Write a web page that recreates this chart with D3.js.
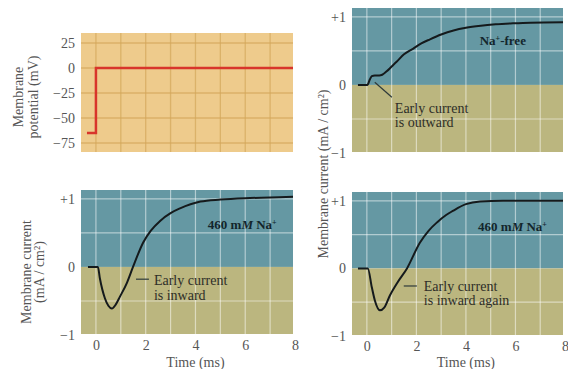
<!DOCTYPE html>
<html>
<head>
<meta charset="utf-8">
<script src="https://cdn.jsdelivr.net/npm/d3@7"></script>
<style>
  body { margin: 0; background: #fff; }
  svg { display: block; }
</style>
</head>
<body>
<script>
// ---- data ----
// voltage step (top left)
var potTime = [-0.36, 0, 0, 7.92];
var potValue = [-65, -65, 0, 0];

// Na+-free current (top right)
var naFreeTime = [-0.36, 0.02, 0.12, 0.2, 0.32, 0.5, 0.62, 0.8, 1.0, 1.2, 1.5, 1.86, 2.2, 2.55, 3.0, 3.5, 4.0, 4.6, 5.2, 5.9, 6.6, 7.92];
var naFreeCurrent = [0, 0, 0.08, 0.13, 0.14, 0.14, 0.15, 0.2, 0.27, 0.34, 0.45, 0.53, 0.61, 0.67, 0.74, 0.8, 0.84, 0.87, 0.89, 0.905, 0.915, 0.92];

// 460 mM Na+ current (bottom left)
var naLeftTime = [-0.32, 0.08, 0.16, 0.36, 0.5, 0.64, 0.8, 0.96, 1.25, 1.49, 1.9, 2.2, 2.59, 3.0, 3.38, 3.8, 4.2, 5.0, 6.0, 7.0, 7.92];
var naLeftCurrent = [0, 0, -0.17, -0.46, -0.57, -0.61, -0.55, -0.44, -0.23, 0, 0.36, 0.53, 0.68, 0.79, 0.86, 0.92, 0.96, 0.99, 1.01, 1.02, 1.03];

// 460 mM Na+ current again (bottom right)
var naRightTime = [-0.36, 0.04, 0.2, 0.32, 0.53, 0.7, 0.93, 1.25, 1.62, 2.14, 2.5, 2.83, 3.2, 3.47, 4.0, 4.57, 5.5, 6.5, 7.92];
var naRightCurrent = [0, 0, -0.28, -0.47, -0.62, -0.58, -0.4, -0.2, 0, 0.38, 0.56, 0.68, 0.79, 0.85, 0.95, 0.99, 1.0, 1.0, 1.0];

// ticks and grids
var timeTicks = [0, 2, 4, 6, 8];
var timeGrid = [0, 1, 2, 3, 4, 5, 6, 7];
var potTicks = [25, 0, -25, -50, -75];
var currentTicks = [1, 0, -1];
var currentTickLabels = ["+1", "0", "\u22121"];
var currentGrid = [1, 0.5, -0.5];

var timeDomain = [-0.6, 7.92];
var potDomain = [-84, 35];
var currentDomain = [-0.985, 1.13];

// ---- setup ----
var svg = d3.select("body").append("svg")
  .attr("width", 568)
  .attr("height", 369);

var serif = "'Liberation Serif', 'Times New Roman', serif";
var tealFill = "#6598a3";
var oliveFill = "#bbb67f";
var tanFill = "#eecb8c";

// panel boxes in pixels
var boxPot = {x0: 81, x1: 293, y0: 33, y1: 152};
var boxFree = {x0: 352, x1: 563, y0: 8, y1: 152};
var boxLeft = {x0: 81, x1: 293, y0: 190, y1: 334};
var boxRight = {x0: 352, x1: 563, y0: 192, y1: 335};

function scalesFor(box, yDomain) {
  return {
    x: d3.scaleLinear().domain(timeDomain).range([box.x0, box.x1]),
    y: d3.scaleLinear().domain(yDomain).range([box.y1, box.y0])
  };
}

function drawYAxis(s, box, ticks, labels) {
  var axis = d3.axisLeft(s.y)
    .tickValues(ticks)
    .tickSize(0)
    .tickPadding(6)
    .tickFormat(function(d, i) { return labels[i]; });
  var g = svg.append("g")
    .attr("transform", "translate(" + box.x0 + ",0)")
    .call(axis);
  g.select(".domain").remove();
  g.selectAll("text")
    .attr("font-family", serif)
    .attr("font-size", 14)
    .attr("fill", "#555");
}

function drawXAxis(s, box) {
  var axis = d3.axisBottom(s.x)
    .tickValues(timeTicks)
    .tickSize(0)
    .tickPadding(6);
  var g = svg.append("g")
    .attr("transform", "translate(0," + box.y1 + ")")
    .call(axis);
  g.select(".domain").remove();
  g.selectAll("text")
    .attr("font-family", serif)
    .attr("font-size", 14)
    .attr("fill", "#555");

  svg.append("text")
    .attr("x", s.x(4))
    .attr("y", 367)
    .attr("text-anchor", "middle")
    .attr("font-family", serif)
    .attr("font-size", 14)
    .attr("fill", "#555")
    .text("Time (ms)");
}

function drawCurrentPanel(s, box, times, values) {
  // two-tone background: outward (teal) above zero, inward (olive) below
  svg.append("rect")
    .attr("x", box.x0).attr("y", box.y0)
    .attr("width", box.x1 - box.x0)
    .attr("height", s.y(0) - box.y0)
    .attr("fill", tealFill);
  svg.append("rect")
    .attr("x", box.x0).attr("y", s.y(0))
    .attr("width", box.x1 - box.x0)
    .attr("height", box.y1 - s.y(0))
    .attr("fill", oliveFill);

  svg.append("g").selectAll("line")
    .data(timeGrid).enter().append("line")
    .attr("x1", d => s.x(d)).attr("x2", d => s.x(d))
    .attr("y1", box.y0).attr("y2", box.y1)
    .attr("stroke", "#fff").attr("stroke-opacity", 0.5).attr("stroke-width", 1.2);

  svg.append("g").selectAll("line")
    .data(currentGrid).enter().append("line")
    .attr("x1", box.x0).attr("x2", box.x1)
    .attr("y1", d => s.y(d)).attr("y2", d => s.y(d))
    .attr("stroke", "#fff").attr("stroke-opacity", 0.5).attr("stroke-width", 1.2);

  var line = d3.line()
    .x(d => s.x(d[0]))
    .y(d => s.y(d[1]))
    .curve(d3.curveMonotoneX);

  svg.append("path")
    .datum(d3.zip(times, values))
    .attr("d", line)
    .attr("fill", "none")
    .attr("stroke", "#151a1c")
    .attr("stroke-width", 2);

  drawYAxis(s, box, currentTicks, currentTickLabels);
}

function bigLabel(s, t, v, parts) {
  var txt = svg.append("text")
    .attr("x", s.x(t))
    .attr("y", s.y(v))
    .attr("text-anchor", "middle")
    .attr("font-family", serif)
    .attr("font-size", 13)
    .attr("font-weight", "bold")
    .attr("fill", "#13262c");
  parts.forEach(function(p) {
    var ts = txt.append("tspan").text(p.text);
    if (p.italic) ts.attr("font-style", "italic");
    if (p.sup) ts.attr("font-size", 8).attr("baseline-shift", "super");
  });
}

function note(s, t, v, lines, lineGap) {
  svg.append("text")
    .attr("font-family", serif)
    .attr("font-size", 14)
    .attr("fill", "#2e2e28")
    .selectAll("tspan")
    .data(lines).enter().append("tspan")
    .attr("x", s.x(t))
    .attr("y", (d, i) => s.y(v) + i * lineGap)
    .text(d => d);
}

function leader(s, t1, v1, t2, v2) {
  svg.append("line")
    .attr("x1", s.x(t1)).attr("y1", s.y(v1))
    .attr("x2", s.x(t2)).attr("y2", s.y(v2))
    .attr("stroke", "#2e3a3a")
    .attr("stroke-width", 1.2);
}

// ---- top left: membrane potential ----
var sPot = scalesFor(boxPot, potDomain);
svg.append("rect")
  .attr("x", boxPot.x0).attr("y", boxPot.y0)
  .attr("width", boxPot.x1 - boxPot.x0)
  .attr("height", boxPot.y1 - boxPot.y0)
  .attr("fill", tanFill);

svg.append("g").selectAll("line")
  .data(timeGrid).enter().append("line")
  .attr("x1", d => sPot.x(d)).attr("x2", d => sPot.x(d))
  .attr("y1", boxPot.y0).attr("y2", boxPot.y1)
  .attr("stroke", "#d3a65a").attr("stroke-opacity", 0.7).attr("stroke-width", 1.3);

svg.append("g").selectAll("line")
  .data(potTicks).enter().append("line")
  .attr("x1", boxPot.x0).attr("x2", boxPot.x1)
  .attr("y1", d => sPot.y(d)).attr("y2", d => sPot.y(d))
  .attr("stroke", "#d3a65a").attr("stroke-opacity", 0.7).attr("stroke-width", 1.3);

svg.append("path")
  .datum(d3.zip(potTime, potValue))
  .attr("d", d3.line().x(d => sPot.x(d[0])).y(d => sPot.y(d[1])))
  .attr("fill", "none")
  .attr("stroke", "#d8352b")
  .attr("stroke-width", 2.5);

drawYAxis(sPot, boxPot, potTicks, potTicks.map(d => d < 0 ? "\u2212" + Math.abs(d) : String(d)));

svg.append("text")
  .attr("transform", "translate(0,97) rotate(-90)")
  .attr("text-anchor", "middle")
  .attr("font-family", serif)
  .attr("font-size", 14)
  .attr("fill", "#555")
  .selectAll("tspan")
  .data(["Membrane", "potential (mV)"]).enter().append("tspan")
  .attr("x", 0)
  .attr("y", (d, i) => 23 + i * 15)
  .text(d => d);

// ---- top right: Na+-free ----
var sFree = scalesFor(boxFree, currentDomain);
drawCurrentPanel(sFree, boxFree, naFreeTime, naFreeCurrent);
bigLabel(sFree, 5.49, 0.59, [{text: "Na"}, {text: "+", sup: true}, {text: "-free"}]);
leader(sFree, 0.32, 0.04, 1.01, -0.18);
note(sFree, 1.13, -0.41, ["Early current", "is outward"], 14);

// ---- bottom left: 460 mM Na+ ----
var sLeft = scalesFor(boxLeft, currentDomain);
drawCurrentPanel(sLeft, boxLeft, naLeftTime, naLeftCurrent);
drawXAxis(sLeft, boxLeft);
bigLabel(sLeft, 5.88, 0.56, [{text: "460 m"}, {text: "M", italic: true}, {text: " Na"}, {text: "+", sup: true}]);
leader(sLeft, 1.61, -0.18, 2.13, -0.18);
note(sLeft, 2.33, -0.27, ["Early current", "is inward"], 15);

svg.append("text")
  .attr("transform", "translate(0,272) rotate(-90)")
  .attr("text-anchor", "middle")
  .attr("font-family", serif)
  .attr("font-size", 14)
  .attr("fill", "#555")
  .selectAll("tspan")
  .data(["Membrane current", "(mA / cm\u00b2)"]).enter().append("tspan")
  .attr("x", 0)
  .attr("y", (d, i) => 31 + i * 13)
  .text(d => d);

// ---- bottom right: back in 460 mM Na+ ----
var sRight = scalesFor(boxRight, currentDomain);
drawCurrentPanel(sRight, boxRight, naRightTime, naRightCurrent);
drawXAxis(sRight, boxRight);
bigLabel(sRight, 5.88, 0.56, [{text: "460 m"}, {text: "M", italic: true}, {text: " Na"}, {text: "+", sup: true}]);
leader(sRight, 1.49, -0.26, 2.02, -0.26);
note(sRight, 2.3, -0.34, ["Early current", "is inward again"], 14);

// shared title for the right column
svg.append("text")
  .attr("transform", "translate(328,174) rotate(-90)")
  .attr("text-anchor", "middle")
  .attr("font-family", serif)
  .attr("font-size", 14)
  .attr("fill", "#555")
  .text("Membrane current (mA / cm\u00b2)");
</script>
</body>
</html>
